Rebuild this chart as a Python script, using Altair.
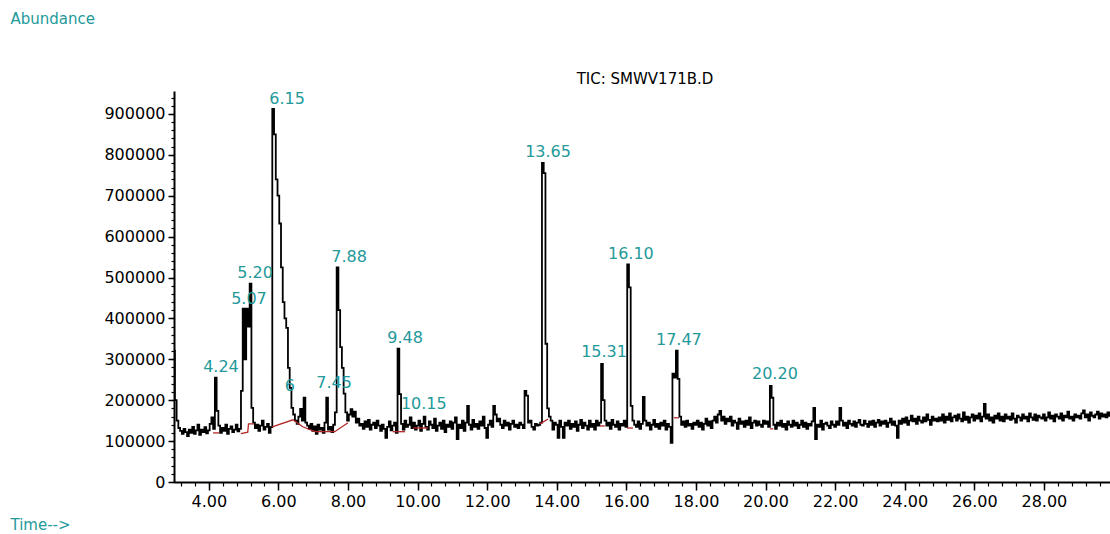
import altair as alt
import pandas as pd

TEAL = "#23999a"
RED = "#b32626"
FONT = "DejaVu Sans"

# TIC abundance (in thousands), sampled every 0.05 min, one list per minute
tic_03 = [321, 200, 150, 132, 125, 118, 130, 122, 112, 128, 120, 135, 118, 126, 140, 115, 128, 122, 134, 119]
tic_04 = [126, 142, 158, 130, 255, 174, 138, 120, 132, 125, 140, 118, 130, 136, 122, 128, 140, 124, 130, 223]
tic_05 = [424, 300, 424, 380, 485, 181, 145, 132, 140, 125, 138, 150, 128, 135, 142, 120, 134, 912, 850, 740]
tic_06 = [700, 632, 525, 440, 400, 377, 279, 230, 181, 165, 150, 142, 160, 179, 150, 206, 145, 138, 130, 142]
tic_07 = [125, 136, 118, 140, 128, 132, 120, 145, 206, 128, 135, 122, 140, 170, 525, 420, 330, 279, 216, 170]
tic_08 = [150, 165, 178, 160, 172, 145, 155, 138, 142, 130, 148, 135, 152, 128, 140, 145, 132, 150, 138, 125]
tic_09 = [140, 130, 108, 135, 148, 126, 138, 145, 120, 326, 215, 142, 128, 150, 135, 140, 158, 132, 145, 128]
tic_10 = [138, 150, 125, 142, 160, 135, 128, 148, 140, 132, 155, 125, 138, 145, 130, 150, 122, 140, 135, 148]
tic_11 = [130, 145, 158, 105, 140, 132, 150, 125, 145, 186, 140, 128, 152, 135, 142, 130, 148, 138, 160, 132]
tic_12 = [108, 140, 150, 135, 186, 165, 148, 155, 140, 132, 150, 138, 145, 128, 142, 150, 135, 140, 132, 145]
tic_13 = [140, 132, 223, 211, 145, 150, 135, 128, 142, 138, 140, 145, 780, 755, 338, 180, 160, 150, 128, 145]
tic_14 = [140, 108, 150, 135, 108, 145, 138, 150, 130, 142, 135, 148, 125, 140, 152, 132, 145, 138, 128, 150]
tic_15 = [135, 142, 128, 150, 138, 145, 289, 200, 150, 138, 145, 130, 152, 140, 135, 148, 128, 142, 138, 150]
tic_16 = [135, 532, 476, 186, 150, 140, 135, 148, 130, 142, 208, 150, 138, 145, 128, 140, 152, 135, 142, 130]
tic_17 = [145, 138, 150, 128, 142, 135, 96, 265, 255, 321, 252, 160, 140, 148, 135, 150, 138, 142, 130, 145]
tic_18 = [140, 150, 135, 145, 128, 142, 155, 138, 148, 132, 150, 160, 145, 165, 174, 150, 160, 142, 155, 148]
tic_19 = [160, 138, 150, 145, 130, 155, 142, 148, 135, 150, 140, 158, 132, 145, 150, 138, 148, 140, 135, 150]
tic_20 = [142, 148, 135, 235, 206, 140, 130, 145, 138, 150, 135, 142, 128, 148, 140, 135, 150, 138, 145, 132]
tic_21 = [140, 150, 135, 145, 130, 142, 138, 148, 181, 105, 140, 135, 150, 128, 142, 145, 138, 132, 148, 140]
tic_22 = [135, 148, 140, 181, 150, 138, 145, 132, 150, 142, 138, 148, 135, 145, 152, 140, 138, 150, 142, 135]
tic_23 = [148, 140, 150, 135, 145, 152, 138, 148, 142, 150, 135, 145, 155, 140, 148, 138, 108, 150, 142, 155]
tic_24 = [145, 158, 140, 150, 162, 148, 155, 142, 160, 150, 145, 158, 148, 165, 152, 140, 160, 150, 155, 148]
tic_25 = [158, 150, 165, 145, 160, 152, 168, 148, 158, 162, 150, 165, 155, 148, 170, 152, 160, 145, 158, 165]
tic_26 = [150, 162, 155, 168, 148, 160, 191, 155, 165, 150, 158, 145, 162, 155, 168, 150, 160, 148, 165, 155]
tic_27 = [160, 152, 168, 155, 145, 162, 158, 150, 165, 155, 160, 148, 168, 158, 152, 165, 150, 162, 158, 155]
tic_28 = [165, 150, 158, 170, 155, 162, 148, 165, 160, 155, 168, 150, 162, 158, 172, 155, 160, 150, 165, 158]
tic_29 = [162, 155, 168, 175, 158, 165, 150, 170, 162, 158, 165, 172, 155, 168, 160, 165, 158, 170, 162]

# integration baselines (red)
base_seg = [1, 1, 2, 2, 2, 2, 3, 3, 3, 3, 3, 3, 3, 4, 4, 5, 5, 6, 6, 7, 7, 8, 8, 9, 9, 10, 10]
base_t = [4.12, 4.30, 4.92, 5.12, 5.14, 5.30, 5.82, 6.42, 6.70, 7.05, 7.35, 7.62, 8.00,
          9.29, 9.64, 9.87, 10.30, 13.52, 13.75, 15.24, 15.38, 16.02, 16.19, 17.37, 17.51, 20.13, 20.22]
base_a = [120, 120, 118, 122, 142, 142, 135, 152, 135, 123, 123, 123, 145,
          123, 123, 132, 132, 142, 154, 137, 137, 132, 132, 157, 157, 130, 130]

# peak labels
lab_text = ["4.24", "5.07", "5.20", "6.15", "6", "7.45", "7.88", "9.48", "10.15",
            "13.65", "15.31", "16.10", "17.47", "20.20"]
lab_t = [4.35, 5.155, 5.33, 6.25, 6.33, 7.60, 8.03, 9.64, 10.18, 13.75, 15.36, 16.13, 17.51, 20.27]
lab_a = [281, 447, 511, 936, 235, 242, 550, 352, 191, 807, 318, 557, 347, 264]

x_major = [4, 6, 8, 10, 12, 14, 16, 18, 20, 22, 24, 26, 28]
x_minor = [round(3.2 + 0.4 * i, 2) for i in range(67)]
y_major = [0, 100000, 200000, 300000, 400000, 500000, 600000, 700000, 800000, 900000]
y_minor = [20000 * i for i in range(48)]

rows = [tic_03, tic_04, tic_05, tic_06, tic_07, tic_08, tic_09, tic_10, tic_11, tic_12,
        tic_13, tic_14, tic_15, tic_16, tic_17, tic_18, tic_19, tic_20, tic_21, tic_22,
        tic_23, tic_24, tic_25, tic_26, tic_27, tic_28, tic_29]
abund = [v * 1000 for r in rows for v in r]
times = [round(3.0 + 0.05 * i, 2) for i in range(len(abund))]
trace = pd.DataFrame({"t": times, "a": abund})
base = pd.DataFrame({"seg": base_seg, "t": base_t, "a": [v * 1000 for v in base_a]})
labels = pd.DataFrame({"txt": lab_text, "t": lab_t, "a": [v * 1000 for v in lab_a]})

xs = alt.Scale(domain=[3.0, 29.9], nice=False, zero=False)
ys = alt.Scale(domain=[0, 956000], nice=False, zero=True)

line = alt.Chart(trace).mark_line(color="black", strokeWidth=1.8, interpolate="step").encode(
    x=alt.X("t:Q", scale=xs, axis=alt.Axis(values=x_minor, labels=False, tickSize=4, tickWidth=1.2,
                                           tickColor="black", domain=False, grid=False,
                                           orient="bottom", title=None)),
    y=alt.Y("a:Q", scale=ys, axis=alt.Axis(values=y_minor, labels=False, tickSize=3, tickWidth=1.2,
                                           tickColor="black", domain=False, grid=False,
                                           orient="left", title=None)),
)

red = alt.Chart(base).mark_line(color=RED, strokeWidth=1.3).encode(
    x=alt.X("t:Q", scale=xs, axis=alt.Axis(
        values=x_major, format=".2f", orient="bottom", tickSize=8, tickWidth=1.5, tickColor="black",
        domain=True, domainColor="black", domainWidth=2, grid=False,
        labelFont=FONT, labelFontSize=16, labelColor="black", labelPadding=3,
        labelFlush=False, labelOverlap=False,
        title="Time-->", titleColor=TEAL, titleFont=FONT, titleFontSize=15, titleFontWeight="normal",
        titleX=-164, titleY=42, titleAlign="left", titleBaseline="middle")),
    y=alt.Y("a:Q", scale=ys, axis=alt.Axis(
        values=y_major, format="d", orient="left", tickSize=6, tickWidth=1.5, tickColor="black",
        domain=True, domainColor="black", domainWidth=2, grid=False,
        labelFont=FONT, labelFontSize=16, labelColor="black", labelPadding=3,
        labelFlush=False, labelOverlap=False,
        title="Abundance", titleColor=TEAL, titleFont=FONT, titleFontSize=15, titleFontWeight="normal",
        titleAngle=0, titleX=-164, titleY=-73, titleAlign="left", titleBaseline="middle")),
    detail="seg:N",
)

text = alt.Chart(labels).mark_text(color=TEAL, font=FONT, fontSize=16, align="center",
                                   baseline="middle").encode(
    x=alt.X("t:Q", scale=xs, axis=None),
    y=alt.Y("a:Q", scale=ys, axis=None),
    text="txt:N",
)

chart = alt.layer(line, red, text).resolve_axis(x="independent", y="independent").properties(
    width=936, height=391,
    autosize=alt.AutoSizeParams(type="none"),
    padding={"left": 174, "top": 91, "right": 0, "bottom": 52},
    background="white",
    title=alt.TitleParams("TIC: SMWV171B.D", anchor="middle", frame="group", fontSize=15,
                          fontWeight="normal", color="black", font=FONT, offset=6, dx=3, dy=82),
).configure_view(stroke=None)

chart.save("out.html", embed_options={"renderer": "svg", "actions": False})
